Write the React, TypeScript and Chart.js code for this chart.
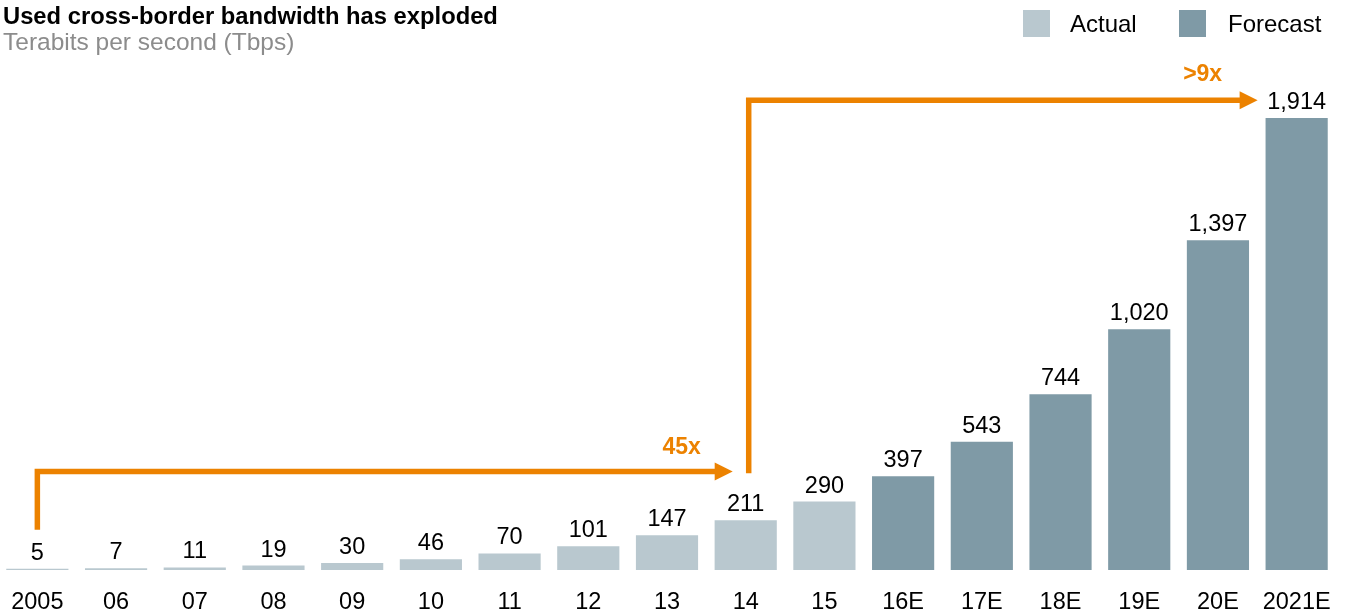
import React, { useEffect, useRef } from "react";
import { Chart, registerables } from "chart.js";

Chart.register(...registerables);

const categories: string[] = ["2005", "06", "07", "08", "09", "10", "11", "12", "13", "14", "15", "16E", "17E", "18E", "19E", "20E", "2021E"];
const bandwidth: number[] = [5, 7, 11, 19, 30, 46, 70, 101, 147, 211, 290, 397, 543, 744, 1020, 1397, 1914];
const isForecast: boolean[] = [false, false, false, false, false, false, false, false, false, false, false, true, true, true, true, true, true];
const legendLabels: string[] = ["Actual", "Forecast"];

const TITLE = "Used cross-border bandwidth has exploded";
const SUBTITLE = "Terabits per second (Tbps)";

const ACTUAL_COLOR = "#B9C8CF";
const FORECAST_COLOR = "#7F9AA6";
const ORANGE = "#EC8200";
const FONT = "'Liberation Sans', Arial, Helvetica, sans-serif";

// growth annotations
const growth1 = { from: 0, to: 9, label: "45x", level: 417, startLevel: 170 };
const growth2 = { from: 9, to: 16, label: ">9x", level: 1990, startLevel: 410 };

const Y_MAX = 2160;

const annotationPlugin = {
  id: "annotations",
  afterDatasetsDraw(chart: any) {
    const ctx = chart.ctx;
    const xs = chart.scales.x;
    const ys = chart.scales.y;
    const meta = chart.getDatasetMeta(0);
    ctx.save();
    // value labels
    ctx.fillStyle = "#000";
    ctx.font = `23.5px ${FONT}`;
    ctx.textAlign = "center";
    ctx.textBaseline = "alphabetic";
    meta.data.forEach((bar: any, i: number) => {
      ctx.fillText(bandwidth[i].toLocaleString("en-US"), bar.x, bar.y - 9);
    });

    const lw = 5.5;
    const headLen = 18;
    const headHalf = 9;
    const drawArrow = (x0: number, yStart: number, yLine: number, xTip: number) => {
      ctx.strokeStyle = ORANGE;
      ctx.fillStyle = ORANGE;
      ctx.lineWidth = lw;
      ctx.lineJoin = "miter";
      ctx.lineCap = "butt";
      ctx.beginPath();
      ctx.moveTo(x0, yStart);
      ctx.lineTo(x0, yLine);
      ctx.lineTo(xTip - headLen + 1, yLine);
      ctx.stroke();
      ctx.beginPath();
      ctx.moveTo(xTip, yLine);
      ctx.lineTo(xTip - headLen, yLine - headHalf);
      ctx.lineTo(xTip - headLen, yLine + headHalf);
      ctx.closePath();
      ctx.fill();
    };

    const a1x = xs.getPixelForValue(growth1.from);
    const a1tip = xs.getPixelForValue(growth1.to) - 13;
    const a1y = ys.getPixelForValue(growth1.level);
    drawArrow(a1x, ys.getPixelForValue(growth1.startLevel), a1y, a1tip);

    const a2x = xs.getPixelForValue(growth2.from) + 3;
    const a2tip = xs.getPixelForValue(growth2.to) - 39;
    const a2y = ys.getPixelForValue(growth2.level);
    drawArrow(a2x, ys.getPixelForValue(growth2.startLevel), a2y, a2tip);

    ctx.fillStyle = ORANGE;
    ctx.font = `bold 23px ${FONT}`;
    ctx.textAlign = "center";
    ctx.fillText(growth1.label, xs.getPixelForValue(growth1.to) - 64, a1y - 18);
    ctx.fillText(growth2.label, xs.getPixelForValue(growth2.to) - 94, a2y - 19);
    ctx.restore();
  },
};

export default function App() {
  const canvasRef = useRef<HTMLCanvasElement | null>(null);

  useEffect(() => {
    if (!canvasRef.current) return;
    const chart = new Chart(canvasRef.current, {
      type: "bar",
      data: {
        labels: categories,
        datasets: [
          {
            label: "Used cross-border bandwidth",
            data: bandwidth,
            backgroundColor: isForecast.map((f) => (f ? FORECAST_COLOR : ACTUAL_COLOR)),
            borderWidth: 0,
            barPercentage: 0.79,
            categoryPercentage: 1.0,
          },
        ],
      },
      options: {
        animation: false,
        responsive: false,
        maintainAspectRatio: false,
        layout: { padding: { top: 60, right: 11, left: 0, bottom: 0 } },
        plugins: {
          legend: { display: false },
          tooltip: { enabled: false },
          title: { display: false },
        },
        scales: {
          x: {
            grid: { display: false, drawTicks: false },
            border: { display: false },
            ticks: {
              color: "#000",
              padding: 18,
              font: { family: FONT, size: 23.5 },
              maxRotation: 0,
              autoSkip: false,
            },
            afterFit(scale: any) {
              scale.height = 44;
              scale.paddingLeft = 0;
              scale.paddingRight = 0;
            },
          },
          y: {
            display: false,
            min: 0,
            max: Y_MAX,
          },
        },
      },
      plugins: [annotationPlugin],
    });
    return () => chart.destroy();
  }, []);

  const legendColors = [ACTUAL_COLOR, FORECAST_COLOR];
  const legendBoxLeft = [1023, 1179];
  const legendTextLeft = [1070, 1228];

  return (
    <div style={{ position: "absolute", left: 0, top: 0, width: 1347, height: 614, overflow: "hidden", fontFamily: FONT }}>
      <canvas
        ref={canvasRef}
        width={1349}
        height={614}
        style={{ position: "absolute", left: -2, top: 0, width: 1349, height: 614 }}
      />
      <div style={{ position: "absolute", left: 3, top: 2, fontSize: 23.75, fontWeight: "bold", color: "#000", whiteSpace: "nowrap", lineHeight: "28px" }}>
        {TITLE}
      </div>
      <div style={{ position: "absolute", left: 3, top: 28, fontSize: 24.5, color: "#8C8C8C", whiteSpace: "nowrap", lineHeight: "28px" }}>
        {SUBTITLE}
      </div>
      {legendLabels.map((lbl, i) => (
        <React.Fragment key={lbl}>
          <div style={{ position: "absolute", left: legendBoxLeft[i], top: 10, width: 27, height: 27, background: legendColors[i] }} />
          <div style={{ position: "absolute", left: legendTextLeft[i], top: 10, fontSize: 24, color: "#000", lineHeight: "28px", whiteSpace: "nowrap" }}>
            {lbl}
          </div>
        </React.Fragment>
      ))}
    </div>
  );
}
